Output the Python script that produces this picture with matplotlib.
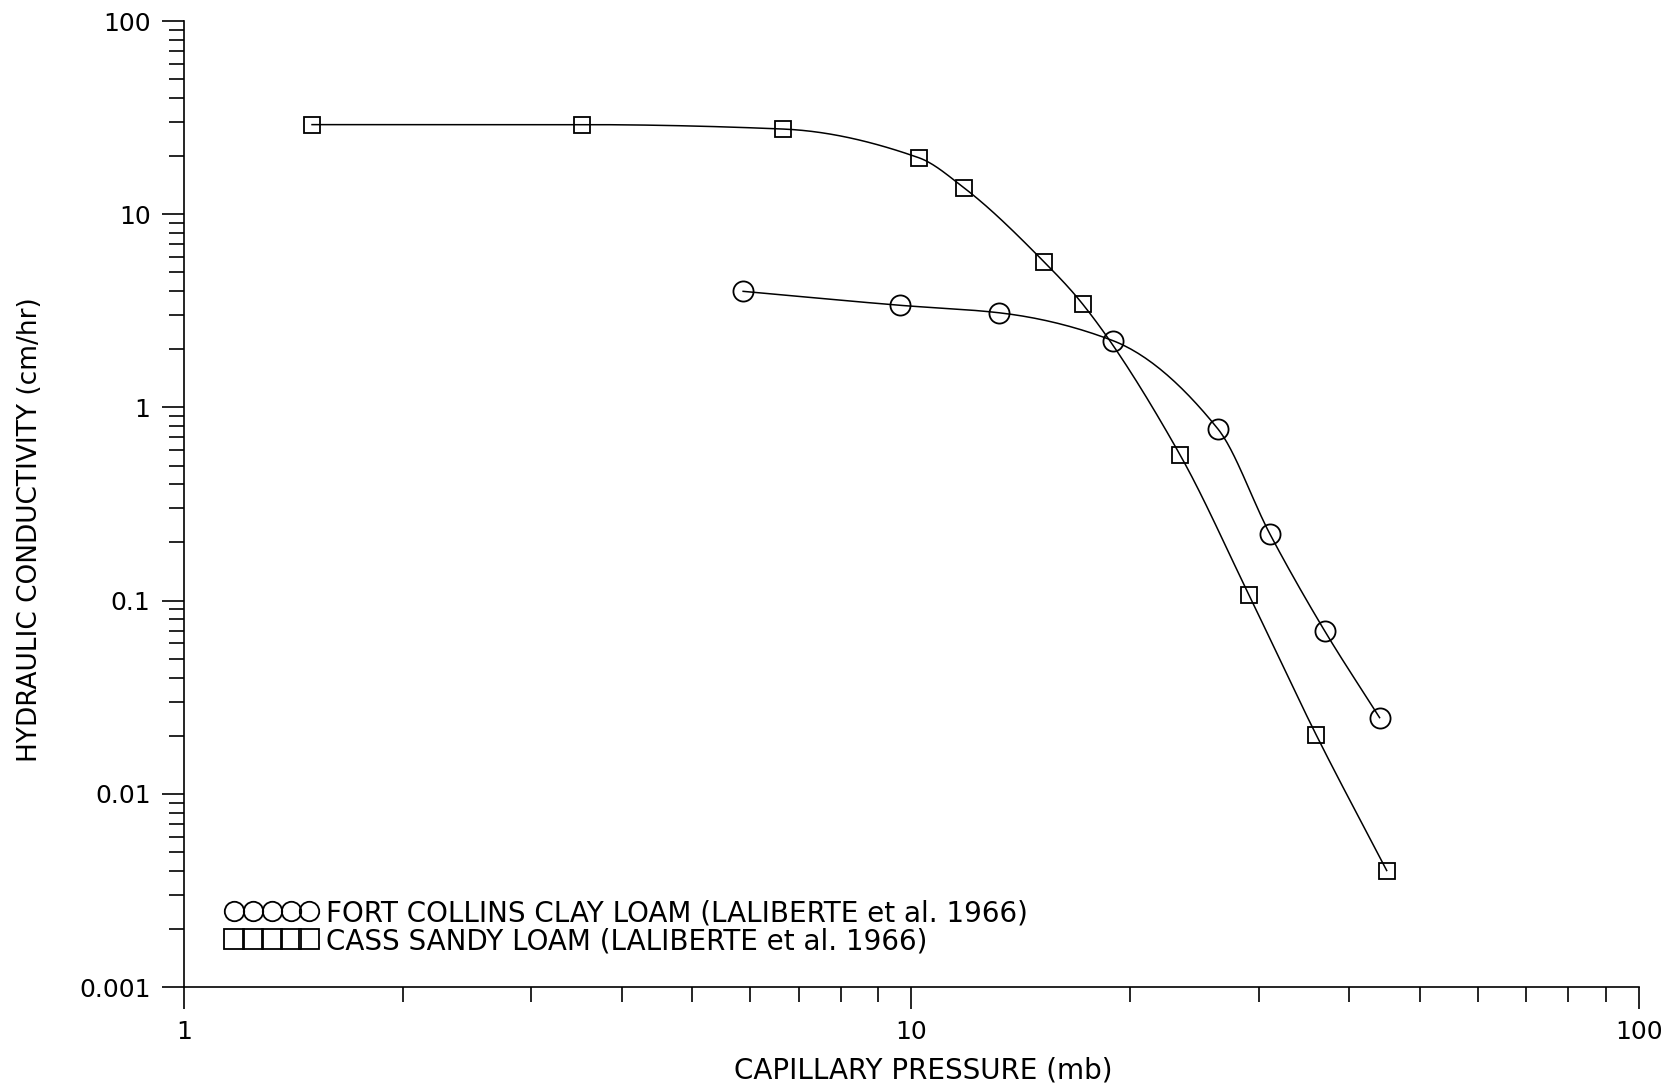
import numpy as np
import matplotlib
matplotlib.use('Agg')
from matplotlib import pyplot as plt
from matplotlib.lines import Line2D
from matplotlib.ticker import LogLocator, FixedLocator, FixedFormatter, NullFormatter

plt.rcParams['font.family'] = ['DejaVu Sans']

# Fort Collins clay loam (circles)
fc_pressure = [5.87, 9.63, 13.2, 18.9, 26.4, 31.1, 37.0, 44.0]
fc_conduct = [3.99, 3.38, 3.09, 2.22, 0.771, 0.221, 0.0695, 0.0248]

# Cass sandy loam (squares)
cs_pressure = [1.50, 3.53, 6.67, 10.24, 11.81, 15.2, 17.2, 23.4, 29.1, 36.0, 45.0]
cs_conduct = [29.1, 29.1, 27.6, 19.6, 13.7, 5.69, 3.42, 0.568, 0.107, 0.0202, 0.00401]

labels = ['FORT COLLINS CLAY LOAM (LALIBERTE et al. 1966)',
          'CASS SANDY LOAM (LALIBERTE et al. 1966)']

y_ticks = [0.001, 0.01, 0.1, 1, 10, 100]
y_ticklabels = ['0.001', '0.01', '0.1', '1', '10', '100']
x_ticks = [1, 10, 100]
x_ticklabels = ['1', '10', '100']


def smooth(x, y, n=30):
    # monotone cubic (pchip) curve through the points, in log-log space
    lx = np.log10(x)
    ly = np.log10(y)
    h = np.diff(lx)
    delta = np.diff(ly) / h
    d = np.zeros(len(lx))
    d[0], d[-1] = delta[0], delta[-1]
    for k in range(1, len(lx) - 1):
        if delta[k - 1] * delta[k] <= 0:
            d[k] = 0.0
        else:
            w1 = 2 * h[k] + h[k - 1]
            w2 = h[k] + 2 * h[k - 1]
            d[k] = (w1 + w2) / (w1 / delta[k - 1] + w2 / delta[k])
    outx, outy = [], []
    t = np.linspace(0, 1, n)
    for k in range(len(h)):
        h00 = 2 * t ** 3 - 3 * t ** 2 + 1
        h10 = t ** 3 - 2 * t ** 2 + t
        h01 = -2 * t ** 3 + 3 * t ** 2
        h11 = t ** 3 - t ** 2
        outx.extend(lx[k] + t * h[k])
        outy.extend(h00 * ly[k] + h10 * h[k] * d[k]
                    + h01 * ly[k + 1] + h11 * h[k] * d[k + 1])
    return 10 ** np.array(outx), 10 ** np.array(outy)


fig = plt.figure(figsize=(16.75, 10.91), dpi=100)
ax = fig.add_axes([0.1098, 0.0953, 0.8687, 0.8854])
ax.set_xscale('log')
ax.set_yscale('log')
ax.set_xlim(1, 100)
ax.set_ylim(0.001, 100)

sx, sy = smooth(fc_pressure, fc_conduct)
ax.plot(sx, sy, color='black', lw=1.1)
ax.plot(fc_pressure, fc_conduct, ls='none', marker='o', ms=14.5,
        mfc='none', mec='black', mew=1.3)

sx, sy = smooth(cs_pressure, cs_conduct)
ax.plot(sx, sy, color='black', lw=1.1)
ax.plot(cs_pressure, cs_conduct, ls='none', marker='s', ms=11.5,
        mfc='none', mec='black', mew=1.3)

ax.spines['right'].set_color('none')
ax.spines['top'].set_color('none')
ax.spines['left'].set_linewidth(1.2)
ax.spines['bottom'].set_linewidth(1.2)

ax.yaxis.set_major_locator(FixedLocator(y_ticks))
ax.yaxis.set_major_formatter(FixedFormatter(y_ticklabels))
ax.yaxis.set_minor_locator(LogLocator(base=10, subs=np.arange(2, 10)))
ax.yaxis.set_minor_formatter(NullFormatter())
ax.xaxis.set_major_locator(FixedLocator(x_ticks))
ax.xaxis.set_major_formatter(FixedFormatter(x_ticklabels))
ax.xaxis.set_minor_locator(LogLocator(base=10, subs=np.arange(2, 10)))
ax.xaxis.set_minor_formatter(NullFormatter())

ax.tick_params(which='major', direction='out', length=16, width=1.2,
               labelsize=18, pad=8)
ax.tick_params(which='minor', direction='out', length=11, width=1.2)

ax.set_xlabel('CAPILLARY PRESSURE (mb)', fontsize=20)
ax.set_ylabel('HYDRAULIC CONDUCTIVITY (cm/hr)', fontsize=19)
ax.xaxis.set_label_coords(0.508, -0.072)
ax.yaxis.set_label_coords(-0.097, 0.474)

handles = [Line2D([], [], ls='none', marker='o', ms=14, mfc='none',
                  mec='black', mew=1.3),
           Line2D([], [], ls='none', marker='s', ms=14, mfc='none',
                  mec='black', mew=1.3)]
ax.legend(handles, labels, loc='lower left', bbox_to_anchor=(0.029, 0.033),
          numpoints=5, handlelength=3.3, handletextpad=0.3, frameon=False,
          fontsize=20, borderpad=0, borderaxespad=0, labelspacing=0.0)

plt.savefig('out.png', dpi=100)
